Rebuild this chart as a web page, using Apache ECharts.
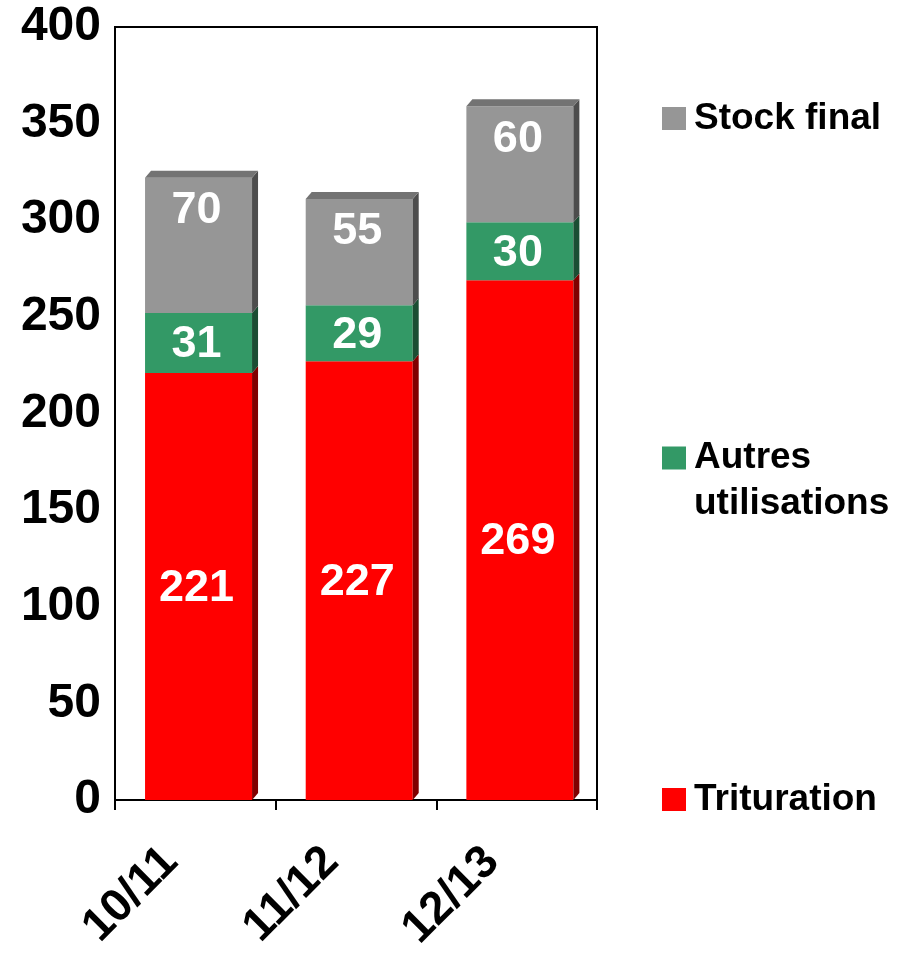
<!DOCTYPE html>
<html>
<head>
<meta charset="utf-8">
<script src="https://cdn.jsdelivr.net/npm/echarts@6/dist/echarts.min.js"></script>
<style>
  html, body { margin: 0; padding: 0; background: #fff; }
  #chart { width: 900px; height: 957px; }
</style>
</head>
<body>
<div id="chart"></div>
<script>
// campagnes
const categories = ['10/11', '11/12', '12/13'];
// valeurs (empilées de bas en haut)
const trituration = [221, 227, 269];
const autresUtilisations = [31, 29, 30];
const stockFinal = [70, 55, 60];
const yTicks = [0, 50, 100, 150, 200, 250, 300, 350, 400];

const FONT = "'Liberation Sans', Arial, sans-serif";
const DEPTH_X = 6, DEPTH_Y = 7;

// couches : couleur face avant, côté, dessus
const layers = [
  { name: 'Trituration', values: trituration, front: '#ff0000', side: '#800000', top: '#c00000' },
  { name: 'Autres utilisations', values: autresUtilisations, front: '#339966', side: '#1b4d33', top: '#267350' },
  { name: 'Stock final', values: stockFinal, front: '#969696', side: '#4d4d4d', top: '#737373' }
];

// bases cumulées pour l'empilement
const bases = categories.map(() => 0);
const layerData = layers.map(l => {
  const d = l.values.map((v, i) => [i, bases[i], bases[i] + v, v]);
  l.values.forEach((v, i) => { bases[i] += v; });
  return d;
});

function makeRender(layer, isTop) {
  return function (params, api) {
    const idx = api.value(0);
    const p0 = api.coord([idx, api.value(1)]);
    const p1 = api.coord([idx, api.value(2)]);
    const bw = api.size([1, 0])[0] * 0.666;
    const x0 = p0[0] - bw * 0.47;
    const x1 = x0 + bw;
    const yb = p0[1], yt = p1[1];
    const children = [
      { type: 'rect', shape: { x: x0, y: yt, width: bw, height: yb - yt }, style: { fill: layer.front } },
      { type: 'polygon', shape: { points: [[x1, yt], [x1 + DEPTH_X, yt - DEPTH_Y], [x1 + DEPTH_X, yb - DEPTH_Y], [x1, yb]] }, style: { fill: layer.side } }
    ];
    if (isTop) {
      children.push({ type: 'polygon', shape: { points: [[x0, yt], [x0 + DEPTH_X, yt - DEPTH_Y], [x1 + DEPTH_X, yt - DEPTH_Y], [x1, yt]] }, style: { fill: layer.top } });
    }
    const ly = isTop ? yt + 33 : (yt + yb) / 2 + 2;
    children.push({
      type: 'text',
      style: {
        text: String(api.value(3)), x: x0 + bw / 2 - 2, y: ly,
        fill: '#ffffff', font: 'bold 45px ' + FONT, align: 'center', verticalAlign: 'middle'
      }
    });
    return { type: 'group', children: children };
  };
}

const chart = echarts.init(document.getElementById('chart'));
const legendText = { color: '#000', fontSize: 37, fontWeight: 'bold', fontFamily: FONT, padding: [0, 0, 0, 3] };

chart.setOption({
  animation: false,
  backgroundColor: '#ffffff',
  grid: { left: 115, right: 303, top: 27, bottom: 157, show: true, borderColor: '#000', borderWidth: 2, backgroundColor: 'transparent' },
  legend: [
    { data: ['Stock final'], left: 662, top: 100, padding: 0, icon: 'rect', itemWidth: 24, itemHeight: 23, textStyle: legendText, selectedMode: false },
    { data: ['Autres utilisations'], left: 662, top: 389, padding: 0, icon: 'rect', itemWidth: 24, itemHeight: 23,
      formatter: () => '\u00a0\nAutres\nutilisations',
      textStyle: Object.assign({}, legendText, { lineHeight: 46 }), selectedMode: false },
    { data: ['Trituration'], left: 662, top: 781, padding: 0, icon: 'rect', itemWidth: 24, itemHeight: 23, textStyle: legendText, selectedMode: false }
  ],
  xAxis: {
    type: 'category',
    data: categories,
    boundaryGap: true,
    axisLine: { show: true, lineStyle: { color: '#000', width: 2 } },
    axisTick: { show: true, length: 10, lineStyle: { color: '#000', width: 2 } },
    axisLabel: { interval: 0, rotate: 45, margin: 30, padding: [0, 35, 0, 0], color: '#000', fontSize: 46, fontWeight: 'bold', fontFamily: FONT }
  },
  yAxis: {
    type: 'value',
    min: yTicks[0],
    max: yTicks[yTicks.length - 1],
    interval: yTicks[1] - yTicks[0],
    axisLine: { show: true, lineStyle: { color: '#000', width: 2 } },
    axisTick: { show: false },
    splitLine: { show: false },
    axisLabel: { margin: 14, color: '#000', fontSize: 48, fontWeight: 'bold', fontFamily: FONT }
  },
  series: layers.map((l, k) => ({
    name: l.name,
    type: 'custom',
    itemStyle: { color: l.front },
    renderItem: makeRender(l, k === layers.length - 1),
    encode: { x: 0, y: [1, 2] },
    data: layerData[k]
  }))
});
</script>
</body>
</html>
